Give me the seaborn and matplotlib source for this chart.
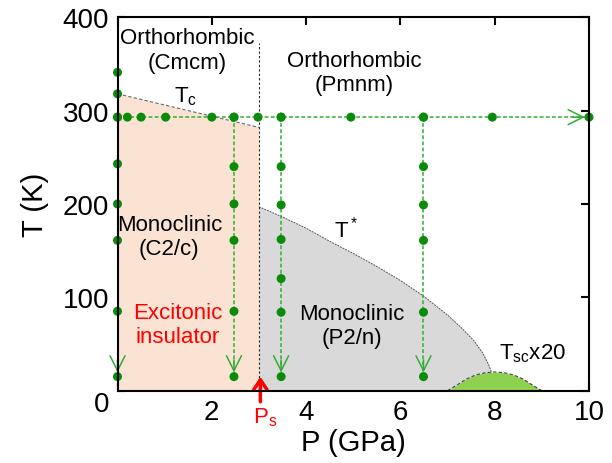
import matplotlib
matplotlib.use("Agg")
import matplotlib.pyplot as plt
import seaborn as sns
import pandas as pd

# phase boundaries (P in GPa, T in K)
tc_P = [0, 1, 2, 3]
tc_T = [318, 306, 294, 282]

tstar_P = [3.0, 3.5, 4.0, 4.5, 5.0, 5.5, 6.0, 6.5, 7.0, 7.3, 7.55, 7.75, 7.87, 7.93]
tstar_T = [197, 186, 174, 160, 147, 133, 118, 101, 81, 67, 54, 40, 28, 20]

dome_P = [7.0, 7.2, 7.4, 7.6, 7.8, 8.0, 8.2, 8.4, 8.6, 8.8, 9.0]
dome_T = [0, 6, 12.5, 16.8, 19.2, 20, 19.2, 16.8, 12.5, 6, 0]

ps_P = 3.0

# measurement paths
horiz_T = 293
horiz_P = [0, 0.21, 0.5, 1.02, 2.0, 2.47, 2.98, 3.47, 4.95, 6.49, 7.95, 10.0]
vert_P = [0, 2.47, 3.47, 6.49]
vert_T = [
    [341, 318, 293, 243, 200, 161, 85, 15],
    [293, 240, 200, 161, 85, 15],
    [293, 240, 199, 162, 120, 84, 15],
    [293, 240, 199, 161, 84, 15],
]

orange = "#FBE3D4"
grey = "#D9D9D9"
dome_green = "#8ED04F"
dot_green = "#0A8C0A"
line_green = "#35AC35"

sns.set_theme(style="ticks")
plt.rcParams["font.family"] = ["Liberation Sans", "DejaVu Sans"]
plt.rcParams["mathtext.fontset"] = "custom"
plt.rcParams["mathtext.rm"] = "Liberation Sans"
plt.rcParams["text.color"] = "black"
plt.rcParams["axes.labelcolor"] = "black"

fig = plt.figure(figsize=(6.12, 4.64), dpi=100)
ax = fig.add_axes([0.192, 0.156, 0.7704, 0.8046])

# filled regions
ax.fill_between(tc_P, 0, tc_T, color=orange, lw=0, zorder=1)
ax.fill_between(tstar_P, 0, tstar_T, color=grey, lw=0, zorder=1)
ax.fill_between(dome_P, 0, dome_T, color=dome_green, lw=0, zorder=2)

ax.plot(tc_P, tc_T, color="#666666", lw=0.8, ls=(0, (3, 2)), zorder=3)
ax.plot(tstar_P, tstar_T, color="#555555", lw=0.7, ls=(0, (2, 1)), zorder=3)
ax.plot(dome_P, dome_T, color="#444444", lw=0.8, ls=(0, (3, 2)), zorder=3)
ax.plot([ps_P, ps_P], [0, 372], color="#222222", lw=0.8, ls=(0, (2, 2)), zorder=3)

# dashed paths with open arrowheads
dash = (0, (2.5, 1.5))
head = "->,head_length=0.9,head_width=0.45"
ax.plot([horiz_P[0], horiz_P[-1]], [horiz_T, horiz_T], color=line_green,
        lw=1.1, ls=dash, zorder=4, clip_on=False)
ax.annotate("", xy=(horiz_P[-1], horiz_T), xytext=(-12, 0), textcoords="offset points",
            arrowprops=dict(arrowstyle=head, color=line_green, lw=1.1, shrinkA=0, shrinkB=3),
            annotation_clip=False, zorder=4)
for p, ts in zip(vert_P, vert_T):
    ax.plot([p, p], [ts[0], ts[-1]], color=line_green, lw=1.1, ls=dash, zorder=4, clip_on=False)
    ax.annotate("", xy=(p, ts[-1]), xytext=(0, 12), textcoords="offset points",
                arrowprops=dict(arrowstyle=head, color=line_green, lw=1.1, shrinkA=0, shrinkB=3),
                annotation_clip=False, zorder=4)

pts = [(p, horiz_T) for p in horiz_P]
for p, ts in zip(vert_P, vert_T):
    pts += [(p, t) for t in ts]
dots = pd.DataFrame(pts, columns=["P", "T"])
sns.scatterplot(data=dots, x="P", y="T", ax=ax, s=42, color=dot_green,
                edgecolor="none", zorder=5, clip_on=False)

# labels
fs = 16
ax.text(1.48, 365, "Orthorhombic\n(Cmcm)", ha="center", va="center", fontsize=fs)
ax.text(5.03, 341, "Orthorhombic\n(Pmnm)", ha="center", va="center", fontsize=fs)
ax.text(1.45, 316, r"$\mathregular{T_c}$", ha="center", va="center", fontsize=fs)
ax.text(4.85, 174, r"$\mathregular{T^*}$", ha="center", va="center", fontsize=fs)
ax.text(1.1, 165, "Monoclinic\n(C2/c)", ha="center", va="center", fontsize=fs)
ax.text(1.28, 71, "Excitonic\ninsulator", ha="center", va="center", fontsize=fs, color="red")
ax.text(4.97, 70, "Monoclinic\n(P2/n)", ha="center", va="center", fontsize=fs)
ax.text(8.8, 41, r"$\mathregular{T_{sc}}$x20", ha="center", va="center", fontsize=fs)

ax.annotate("", xy=(ps_P + 0.03, 15), xytext=(ps_P + 0.03, -12),
            arrowprops=dict(arrowstyle="->,head_length=0.6,head_width=0.4", color="red",
                            lw=2.5, shrinkA=0, shrinkB=0),
            annotation_clip=False)
ax.text(ps_P + 0.13, -28, r"$\mathregular{P_s}$", ha="center", va="center",
        fontsize=fs, color="red", clip_on=False)

ax.set_xlim(0, 10)
ax.set_ylim(0, 400)
ax.set_xticks([0, 2, 4, 6, 8, 10])
ax.set_xticklabels(["", "2", "4", "6", "8", "10"])
ax.set_yticks([0, 100, 200, 300, 400])
ax.tick_params(direction="in", length=6, width=1.5, top=True, right=True,
               labelsize=20, pad=6, colors="black")
ax.get_yticklabels()[0].set_verticalalignment("top")
for s in ax.spines.values():
    s.set_linewidth(1.5)
    s.set_color("black")
    s.set_zorder(6)
ax.set_xlabel("P (GPa)", fontsize=21, labelpad=2)
ax.set_ylabel("T (K)", fontsize=21, labelpad=10)

fig.savefig("out.png", dpi=100)
